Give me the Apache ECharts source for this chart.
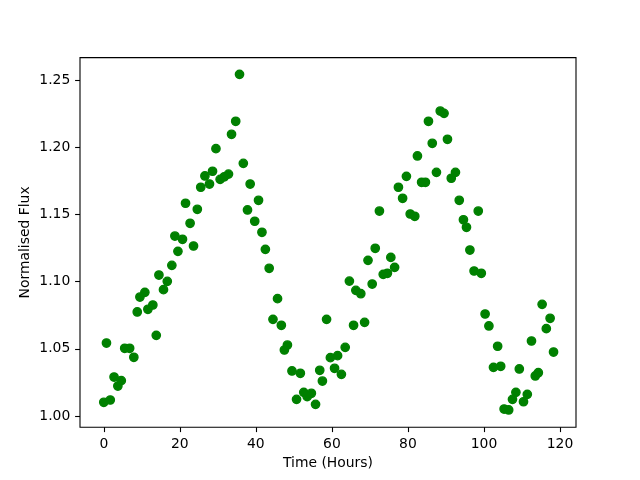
<!DOCTYPE html>
<html>
<head>
<meta charset="utf-8">
<script src="https://cdn.jsdelivr.net/npm/echarts@6/dist/echarts.min.js"></script>
<style>html,body{margin:0;padding:0;background:#fff}#c{width:640px;height:480px}</style>
</head>
<body>
<div id="c"></div>
<script>
const times = [0, 0.7, 1.7, 2.7, 3.7, 4.6, 5.5, 6.8, 7.9, 8.8,
  9.5, 10.8, 11.6, 12.9, 13.8, 14.5, 15.7, 16.7, 17.9, 18.7,
  19.5, 20.7, 21.5, 22.7, 23.6, 24.6, 25.5, 26.6, 27.8, 28.6,
  29.5, 30.6, 31.7, 32.8, 33.6, 34.7, 35.7, 36.7, 37.8, 38.5,
  39.7, 40.7, 41.6, 42.5, 43.5, 44.5, 45.7, 46.7, 47.5, 48.3,
  49.5, 50.7, 51.7, 52.6, 53.5, 54.6, 55.7, 56.8, 57.5, 58.6,
  59.6, 60.7, 61.5, 62.5, 63.5, 64.6, 65.7, 66.3, 67.6, 68.6,
  69.5, 70.6, 71.4, 72.5, 73.5, 74.6, 75.5, 76.5, 77.5, 78.6,
  79.6, 80.6, 81.8, 82.5, 83.6, 84.6, 85.4, 86.4, 87.5, 88.5,
  89.5, 90.4, 91.4, 92.5, 93.5, 94.6, 95.4, 96.3, 97.4, 98.5,
  99.3, 100.3, 101.3, 102.5, 103.6, 104.4, 105.3, 106.5, 107.5, 108.4,
  109.3, 110.4, 111.4, 112.5, 113.5, 114.3, 115.3, 116.4, 117.4, 118.3];
const flux = [1.0102, 1.0543, 1.0119, 1.0290, 1.0223, 1.0263, 1.0504, 1.0504, 1.0437, 1.0774,
  1.0885, 1.0920, 1.0794, 1.0826, 1.0600, 1.1049, 1.0940, 1.1002, 1.1121, 1.1339,
  1.1225, 1.1315, 1.1583, 1.1434, 1.1265, 1.1538, 1.1702, 1.1786, 1.1726, 1.1821,
  1.1989, 1.1761, 1.1780, 1.1800, 1.2096, 1.2193, 1.2542, 1.1880, 1.1533, 1.1726,
  1.1449, 1.1605, 1.1367, 1.1240, 1.1099, 1.0719, 1.0873, 1.0675, 1.0491, 1.0528,
  1.0335, 1.0124, 1.0318, 1.0176, 1.0144, 1.0169, 1.0087, 1.0340, 1.0260, 1.0719,
  1.0434, 1.0355, 1.0449, 1.0310, 1.0511, 1.1004, 1.0675, 1.0935, 1.0910, 1.0697,
  1.1158, 1.0982, 1.1248, 1.1525, 1.1054, 1.1062, 1.1180, 1.1106, 1.1702, 1.1620,
  1.1783, 1.1503, 1.1486, 1.1935, 1.1739, 1.1739, 1.2193, 1.2029, 1.1813, 1.2269,
  1.2252, 1.2059, 1.1769, 1.1813, 1.1605, 1.1460, 1.1404, 1.1235, 1.1079, 1.1525,
  1.1062, 1.0759, 1.0670, 1.0362, 1.0519, 1.0370, 1.0052, 1.0045, 1.0124, 1.0176,
  1.0350, 1.0106, 1.0161, 1.0558, 1.0298, 1.0322, 1.0831, 1.0650, 1.0727, 1.0476];
const xTicks = [0, 20, 40, 60, 80, 100, 120];
const yTicks = [1.00, 1.05, 1.10, 1.15, 1.20, 1.25];

const points = times.map((t, i) => [t, flux[i]]);
const font = 'DejaVu Sans';
const chart = echarts.init(document.getElementById('c'), null, {renderer: 'canvas'});
chart.setOption({
  animation: false,
  backgroundColor: '#fff',
  grid: {left: 80, right: 64, top: 57.6, bottom: 52.8, show: true,
    borderColor: '#000', borderWidth: 1.1, backgroundColor: 'transparent', containLabel: false},
  xAxis: {
    type: 'value', min: -6.26, max: 124.21,
    name: 'Time (Hours)', nameLocation: 'middle', nameGap: 29, nameMoveOverlap: false,
    nameTextStyle: {fontFamily: font, fontSize: 13.9, color: '#000'},
    axisLine: {show: false, onZero: false},
    splitLine: {show: false},
    axisTick: {show: true, length: 4.9, lineStyle: {color: '#000', width: 1.1}, customValues: xTicks},
    axisLabel: {fontFamily: font, fontSize: 13.9, color: '#000', margin: 9.7, customValues: xTicks,
      formatter: v => String(Math.round(v))}
  },
  yAxis: {
    type: 'value', min: 0.99167, max: 1.26667,
    name: 'Normalised Flux', nameLocation: 'middle', nameGap: 48, nameRotate: 90, nameMoveOverlap: false,
    nameTextStyle: {fontFamily: font, fontSize: 13.9, color: '#000'},
    axisLine: {show: false, onZero: false},
    splitLine: {show: false},
    axisTick: {show: true, length: 4.9, lineStyle: {color: '#000', width: 1.1}, customValues: yTicks},
    axisLabel: {fontFamily: font, fontSize: 13.9, color: '#000', margin: 9.7, customValues: yTicks,
      formatter: v => v.toFixed(2)}
  },
  series: [{
    type: 'scatter', data: points, symbol: 'circle', symbolSize: 8.33,
    itemStyle: {color: '#008000', borderColor: '#008000', borderWidth: 1.39, opacity: 1}
  }]
});
</script>
</body>
</html>
